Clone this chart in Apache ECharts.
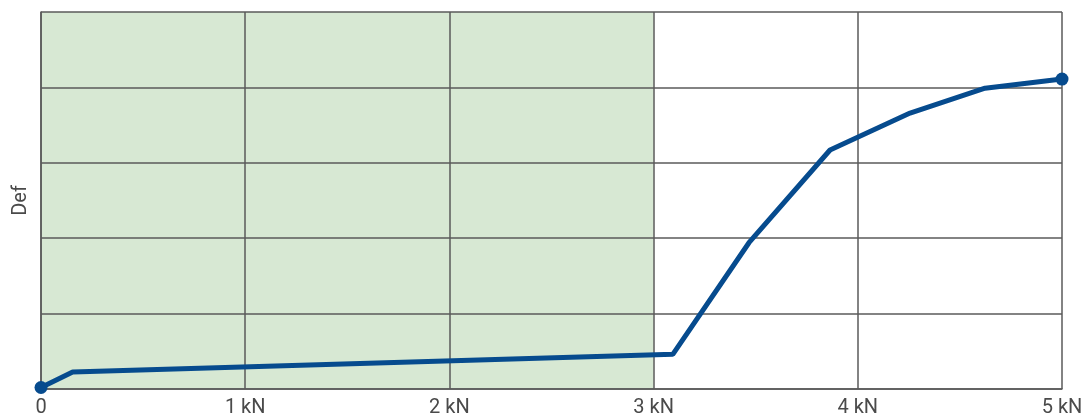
<!DOCTYPE html>
<html>
<head>
<meta charset="utf-8">
<script src="https://cdn.jsdelivr.net/npm/echarts@6/dist/echarts.min.js"></script>
<style>
  html, body { margin: 0; padding: 0; background: #fff; }
  #chart { width: 1085px; height: 419px; }
</style>
</head>
<body>
<div id="chart"></div>
<script>
// load (kN) vs deflection
const loadKN = [0, 0.155, 3.094, 3.467, 3.864, 4.256, 4.623, 5]
const deflection = [0.02, 0.225, 0.46, 1.94, 3.17, 3.66, 3.99, 4.11]
const xTicks = ['0', '1 kN', '2 kN', '3 kN', '4 kN', '5 kN']
const shadedRange = [0, 3]

const lineColor = '#064b8e'
const gridColor = '#5a5a5a'

const chart = echarts.init(document.getElementById('chart'))

const points = loadKN.map((x, i) => {
  const isEnd = i === 0 || i === loadKN.length - 1
  return {
    value: [x, deflection[i]],
    symbol: isEnd ? 'circle' : 'none',
    symbolSize: isEnd ? 13 : 0
  }
})

chart.setOption({
  animation: false,
  grid: {
    left: 41, right: 23, top: 12, bottom: 30,
    containLabel: false,
    outerBoundsMode: 'none'
  },
  xAxis: {
    type: 'value',
    min: 0,
    max: 5,
    interval: 1,
    axisLine: { show: true, lineStyle: { color: gridColor, width: 1.5 } },
    axisTick: { show: false },
    splitLine: { show: true, lineStyle: { color: gridColor, width: 1.5 } },
    axisLabel: {
      color: '#4a4a4a',
      fontFamily: 'Roboto',
      fontSize: 20,
      margin: 9,
      hideOverlap: false,
      formatter: v => xTicks[Math.round(v)]
    }
  },
  yAxis: {
    type: 'value',
    min: 0,
    max: 5,
    interval: 1,
    name: 'Def',
    nameLocation: 'middle',
    nameGap: 10,
    nameRotate: 90,
    nameTextStyle: { color: '#4a4a4a', fontFamily: 'Roboto', fontSize: 20 },
    axisLine: { show: true, lineStyle: { color: gridColor, width: 1.5 } },
    axisTick: { show: false },
    axisLabel: { show: false },
    splitLine: { show: true, lineStyle: { color: gridColor, width: 1.5 } }
  },
  series: [
    {
      type: 'line',
      data: [],
      z: -1,
      markArea: {
        silent: true,
        z: -1,
        itemStyle: { color: '#d7e8d3' },
        data: [[{ xAxis: shadedRange[0] }, { xAxis: shadedRange[1] }]]
      }
    },
    {
      type: 'line',
      data: points,
      lineStyle: { color: lineColor, width: 5 },
      itemStyle: { color: lineColor },
      z: 5
    }
  ]
})
</script>
</body>
</html>
